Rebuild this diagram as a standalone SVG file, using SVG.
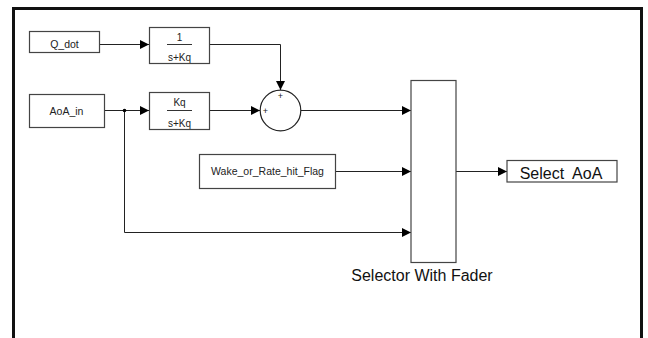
<svg xmlns="http://www.w3.org/2000/svg" width="648" height="338" viewBox="0 0 648 338">
<defs>
<style>
.blk{fill:#fff;stroke:#444;stroke-width:1.2}
.lbl{font-family:"Liberation Sans",Arial,sans-serif;font-size:10.5px;fill:#222;text-anchor:middle}
.big{font-family:"Liberation Sans",Arial,sans-serif;font-size:16px;fill:#111;text-anchor:middle}
.wire{fill:none;stroke:#222;stroke-width:1}
.frac{stroke:#333;stroke-width:1}
</style>
<marker id="arr" markerUnits="userSpaceOnUse" markerWidth="10" markerHeight="10" refX="9" refY="4.5" orient="auto">
<path d="M0,0 L9,4.5 L0,9 Z" fill="#000"/>
</marker>
</defs>
<rect width="648" height="338" fill="#fff"/>
<path d="M13.5,345 V8.5 H641.5 V345" fill="none" stroke="#111" stroke-width="3"/>

<g id="connectors">
<path class="wire" d="M99,44.5 H149" marker-end="url(#arr)"/>
<path class="wire" d="M209,44.5 H280.5 V90" marker-end="url(#arr)"/>
<path class="wire" d="M104,110.5 H149" marker-end="url(#arr)"/>
<path class="wire" d="M209,110.5 H260" marker-end="url(#arr)"/>
<path class="wire" d="M301,110.5 H411" marker-end="url(#arr)"/>
<path class="wire" d="M335,171.5 H411" marker-end="url(#arr)"/>
<path class="wire" d="M124.5,110.5 V232.5 H411" marker-end="url(#arr)"/>
<path class="wire" d="M456,171.5 H507" marker-end="url(#arr)"/>
<circle cx="124.5" cy="110.5" r="1.8" fill="#000"/>
</g>

<g id="q_dot">
<rect class="blk" x="29.5" y="31.5" width="70" height="21"/>
<text class="lbl" x="64.5" y="48">Q_dot</text>
</g>

<g id="aoa_in">
<rect class="blk" x="29.5" y="94.5" width="75" height="33"/>
<text class="lbl" x="66.5" y="114.5">AoA_in</text>
</g>

<g id="tf1">
<rect class="blk" x="149.5" y="27.5" width="60" height="36"/>
<text class="lbl" x="179.5" y="40.5" style="font-size:10px">1</text>
<line class="frac" x1="167" y1="44.5" x2="192" y2="44.5"/>
<text class="lbl" x="179.5" y="60.5" style="font-size:10px">s+Kq</text>
</g>

<g id="tf2">
<rect class="blk" x="149.5" y="92.5" width="60" height="37"/>
<text class="lbl" x="179.5" y="106" style="font-size:10px">Kq</text>
<line class="frac" x1="167" y1="110.5" x2="192" y2="110.5"/>
<text class="lbl" x="179.5" y="126.5" style="font-size:10px">s+Kq</text>
</g>

<g id="sum">
<circle cx="280.5" cy="110.5" r="20.3" fill="#fff" stroke="#222" stroke-width="1.2"/>
<text class="lbl" x="280.5" y="98.5" style="font-size:9px">+</text>
<text class="lbl" x="265.5" y="113.5" style="font-size:9px">+</text>
</g>

<g id="wake_flag">
<rect class="blk" x="199.5" y="154.5" width="136" height="34"/>
<text class="lbl" x="267.5" y="175">Wake_or_Rate_hit_Flag</text>
</g>

<g id="selector">
<rect class="blk" x="411" y="80.5" width="45" height="182"/>
<text class="big" x="422" y="281">Selector With Fader</text>
</g>

<g id="select_aoa">
<rect class="blk" x="507" y="160.5" width="110" height="21.5"/>
<text class="big" x="561" y="178.5" xml:space="preserve" style="white-space:pre">Select  AoA</text>
</g>
</svg>
